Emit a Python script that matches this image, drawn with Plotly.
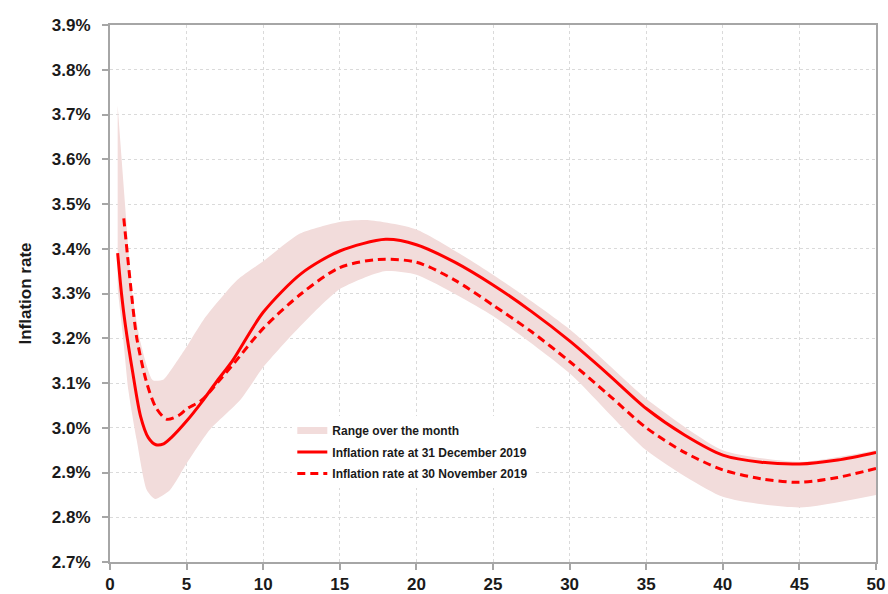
import plotly.graph_objects as go

# Inflation rate at 31 December 2019 (solid)
dec_x = [0.5, 0.75, 1.0, 1.5, 2.0, 2.5, 3.0, 3.5, 4.0, 5.0, 6.0, 7.0, 8.0, 10.0, 12.5, 15.0, 18.0, 20.0,
         22.5, 25.0, 27.5, 30.0, 32.5, 35.0, 37.5, 40.0, 42.5, 45.0, 47.5, 50.0]
dec_y = [3.39, 3.30, 3.23, 3.12, 3.025, 2.978, 2.962, 2.964, 2.978, 3.015, 3.058, 3.105, 3.15, 3.258, 3.345,
         3.395, 3.421, 3.409, 3.37, 3.319, 3.26, 3.194, 3.12, 3.043, 2.984, 2.939, 2.923, 2.919, 2.928, 2.945]

# Inflation rate at 30 November 2019 (dashed)
nov_x = [0.9, 1.4, 1.75, 2.4, 3.0, 3.7, 4.5, 5.0, 6.0, 7.0, 8.0, 10.0, 12.5, 15.0, 17.5, 20.0, 22.5, 25.0,
         27.5, 30.0, 32.5, 35.0, 37.5, 40.0, 42.5, 45.0, 47.5, 50.0]
nov_y = [3.468, 3.30, 3.20, 3.10, 3.045, 3.019, 3.028, 3.042, 3.062, 3.10, 3.14, 3.222, 3.30, 3.358, 3.376,
         3.37, 3.33, 3.274, 3.215, 3.148, 3.075, 3.0, 2.945, 2.906, 2.886, 2.878, 2.889, 2.909]

# Range over the month (band)
band_lo_x = [0.5, 0.87, 1.2, 1.74, 2.4, 2.94, 3.92, 5.0, 6.5, 8.5, 10.0, 12.4, 15.0, 17.9, 20.0, 25.0,
             30.0, 35.0, 40.0, 45.0, 50.0]
band_lo_y = [3.31, 3.196, 3.084, 2.973, 2.861, 2.841, 2.861, 2.92, 2.995, 3.062, 3.135, 3.226, 3.31, 3.35,
             3.342, 3.25, 3.122, 2.95, 2.846, 2.822, 2.85]
band_hi_x = [0.5, 1.0, 1.42, 2.0, 2.8, 3.5, 3.9, 5.0, 6.1, 8.3, 10.0, 12.4, 15.0, 16.8, 20.0, 25.0,
             30.0, 35.0, 40.0, 45.0, 50.0]
band_hi_y = [3.72, 3.49, 3.31, 3.19, 3.106, 3.108, 3.125, 3.181, 3.241, 3.33, 3.372, 3.434, 3.46, 3.464,
             3.443, 3.342, 3.22, 3.065, 2.95, 2.924, 2.95]

y_ticks = [2.7, 2.8, 2.9, 3.0, 3.1, 3.2, 3.3, 3.4, 3.5, 3.6, 3.7, 3.8, 3.9]
x_ticks = [0, 5, 10, 15, 20, 25, 30, 35, 40, 45, 50]

PINK = "#F2DCDB"
RED = "#FF0000"
FONT = "Liberation Sans"

fig = go.Figure()
fig.add_trace(go.Scatter(x=band_lo_x, y=band_lo_y, mode="lines", line=dict(width=0, color=PINK, shape="spline", smoothing=0.6),
                         showlegend=False, hoverinfo="skip"))
fig.add_trace(go.Scatter(x=band_hi_x, y=band_hi_y, mode="lines", line=dict(width=0, color=PINK, shape="spline", smoothing=0.6),
                         fill="tonexty", fillcolor=PINK, showlegend=False, hoverinfo="skip"))
# legend entry for band
fig.add_trace(go.Scatter(x=[None], y=[None], mode="lines", line=dict(width=7, color=PINK),
                         name="Range over the month", legendgroup="g1"))
fig.add_trace(go.Scatter(x=dec_x, y=dec_y, mode="lines", line=dict(width=3, color=RED, shape="spline", smoothing=0.8),
                         name="Inflation rate at 31 December 2019", legendgroup="g2"))
fig.add_trace(go.Scatter(x=nov_x, y=nov_y, mode="lines",
                         line=dict(width=3, color=RED, dash="8px,5px", shape="spline", smoothing=0.8),
                         name="Inflation rate at 30 November 2019", legendgroup="g3"))

grid = dict(showgrid=True, gridcolor="#DADADA", gridwidth=1, griddash="dot")
fig.update_xaxes(range=[0, 50], tickvals=x_ticks, ticktext=[str(v) for v in x_ticks],
                 showline=True, linecolor="#A6A6A6", linewidth=2, mirror=True,
                 ticks="outside", ticklen=6, tickcolor="#A6A6A6", tickwidth=1.5, automargin=False,
                 tickfont=dict(family=FONT, size=17, color="#1a1a1a", weight="bold"), zeroline=False, **grid)
fig.update_yaxes(range=[2.7, 3.9], tickvals=y_ticks, ticktext=[f"{v:.1f}%" for v in y_ticks],
                 showline=True, linecolor="#A6A6A6", linewidth=2, mirror=True,
                 ticks="outside", ticklen=6, tickcolor="#A6A6A6", tickwidth=1.5, automargin=False,
                 ticklabelstandoff=8,
                 tickfont=dict(family=FONT, size=17, color="#1a1a1a", weight="bold"), zeroline=False,
                 title=dict(text="<b>Inflation rate</b>", font=dict(family=FONT, size=17, color="#1a1a1a"), standoff=16),
                 **grid)

fig.update_layout(
    width=888, height=594,
    margin=dict(l=110, r=12, t=25, b=32),
    plot_bgcolor="white", paper_bgcolor="white",
    font=dict(family=FONT, size=17, color="#1a1a1a"),
    legend=dict(x=0.238, y=0.272, xanchor="left", yanchor="top", bgcolor="white",
                font=dict(family=FONT, size=12, color="#1a1a1a", weight="bold"),
                itemwidth=30, tracegroupgap=2.5, traceorder="grouped"),
)

fig.write_html("out.html", config={"displayModeBar": False},
               post_script="document.body.style.margin='0px';document.body.style.overflow='hidden';")
